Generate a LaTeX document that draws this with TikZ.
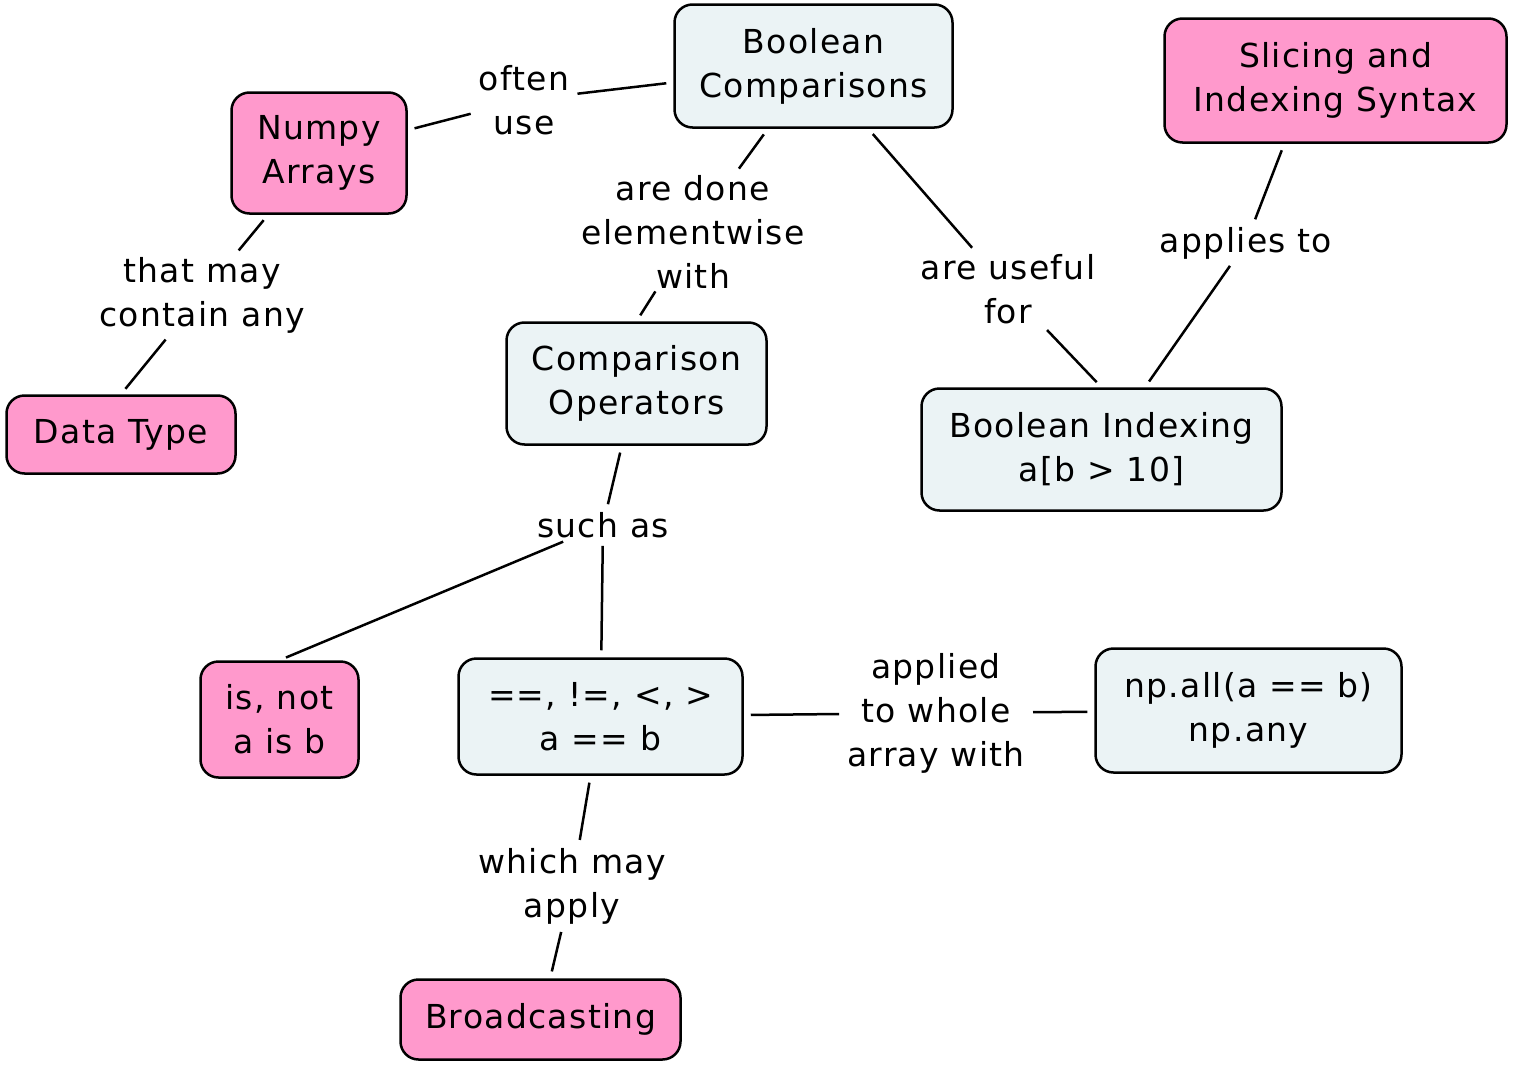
\documentclass[tikz,border=0pt]{standalone}
\usepackage{fontspec}
\setmainfont[LetterSpace=4]{DejaVu Sans}
\definecolor{pinkc}{RGB}{255,153,204}
\definecolor{bluec}{RGB}{235,243,245}
\begin{document}
\begin{tikzpicture}[x=1pt,y=-1pt,
 box/.style={draw=black, line width=2.5pt, rounded corners=18pt, align=center, inner sep=2pt, font=\fontsize{33}{44}\selectfont},
 pbox/.style={box, fill=pinkc},
 bbox/.style={box, fill=bluec},
 lbl/.style={align=center, inner sep=1pt, font=\fontsize{33}{44}\selectfont},
 conn/.style={line width=2.5pt, shorten <=7pt, shorten >=7pt}]
\useasboundingbox (0,0) rectangle (1513,1068);
% concepts
\node[bbox, minimum width=278pt, minimum height=123pt] (bc) at (813.5,66) {Boolean\\Comparisons};
\node[pbox, minimum width=342pt, minimum height=124pt] (slicing) at (1335.5,80.5) {Slicing and\\Indexing Syntax};
\node[pbox, minimum width=175pt, minimum height=121pt] (numpy) at (319,153) {Numpy\\Arrays};
\node[pbox, minimum width=229pt, minimum height=78pt] (dt) at (121,434.5) {Data Type};
\node[bbox, minimum width=260pt, minimum height=122pt] (co) at (636.5,383.5) {Comparison\\Operators};
\node[bbox, minimum width=360pt, minimum height=122pt] (bi) at (1101.5,449.5) {Boolean Indexing\\a[b > 10]};
\node[pbox, minimum width=158pt, minimum height=116pt] (isnot) at (279.5,719.5) {is, not\\a is b};
\node[bbox, minimum width=284pt, minimum height=116pt] (ops) at (600.5,716.5) {==, !=, <, >\\a == b};
\node[bbox, minimum width=306pt, minimum height=124pt] (npall) at (1248.5,710.5) {np.all(a == b)\\np.any};
\node[pbox, minimum width=280pt, minimum height=80pt] (bcast) at (540.5,1019.5) {Broadcasting};
% linking phrases
\node[lbl] (often) at (524,100) {often\\use};
\node[lbl] (done) at (693,232) {are done\\elementwise\\with};
\node[lbl] (useful) at (1008,289) {are useful\\for};
\node[lbl] (applies) at (1246,243) {applies to};
\node[lbl] (thatmay) at (202,295) {that may\\contain any};
\node[lbl] (such) at (603,525) {such as};
\node[lbl] (applied) at (936,713) {applied\\to whole\\array with};
\node[lbl] (which) at (572,886) {which may\\apply};
% connectors
\draw[conn] (numpy) -- (often);
\draw[conn] (often) -- (bc);
\draw[conn] (bc) -- (done);
\draw[conn, shorten <=2pt] (done) -- (co.north);
\draw[conn] (bc) -- (useful);
\draw[conn] (useful) -- (bi.north);
\draw[conn] (slicing.231) -- (applies);
\draw[conn] (applies) -- (bi);
\draw[conn] (numpy) -- (thatmay);
\draw[conn] (thatmay) -- (dt.north);
\draw[conn] (co) -- (such);
\draw[conn] (such) -- (isnot.north);
\draw[conn] (such) -- (ops);
\draw[conn] (ops) -- (applied);
\draw[conn] (applied) -- (npall);
\draw[conn] (ops) -- (which);
\draw[conn] (which) -- (bcast);
\end{tikzpicture}
\end{document}
